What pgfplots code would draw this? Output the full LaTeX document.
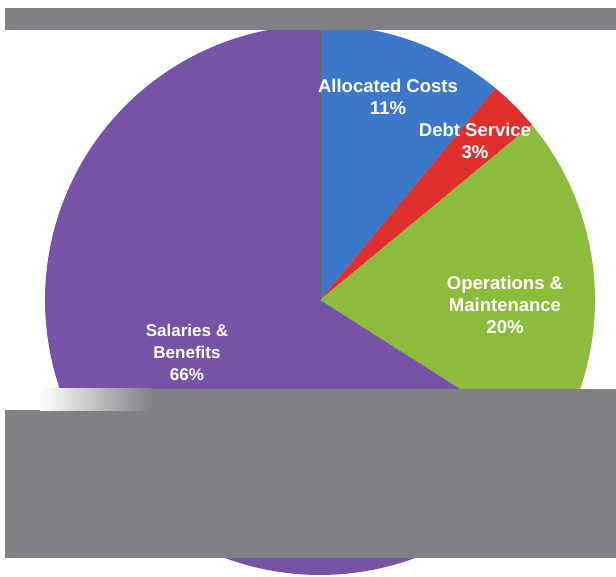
\documentclass[border=0pt]{standalone}
\usepackage{pgfplots}
\pgfplotsset{compat=1.18}
\usepackage{pgfplotstable}
\usepackage{fontspec}
\setmainfont{Liberation Sans}
\definecolor{cAlloc}{HTML}{3B78C9}
\definecolor{cDebt}{HTML}{E0302E}
\definecolor{cOps}{HTML}{8DBB3B}
\definecolor{cSal}{HTML}{7753A8}
\definecolor{cGray}{HTML}{808185}
\pgfplotstableread{
label share
Allocated 11
Debt 3
Operations 20
Salaries 66
}\shares
\pgfplotstablegetelem{0}{share}\of\shares \let\sA\pgfplotsretval
\pgfplotstablegetelem{1}{share}\of\shares \let\sB\pgfplotsretval
\pgfplotstablegetelem{2}{share}\of\shares \let\sC\pgfplotsretval
\pgfplotstablegetelem{3}{share}\of\shares \let\sD\pgfplotsretval
\pgfmathsetmacro\aA{90}
\pgfmathsetmacro\aB{\aA-3.6*\sA}
\pgfmathsetmacro\aC{\aB-3.6*\sB}
\pgfmathsetmacro\aD{\aC-3.6*\sC}
\pgfmathsetmacro\aE{\aD-3.6*\sD}
\def\cx{320}
\def\cy{277}
\def\R{275}
\begin{document}
\begin{tikzpicture}
\begin{axis}[
  width=616pt, height=577pt, scale only axis,
  xmin=0, xmax=616, ymin=0, ymax=577,
  hide axis, clip=true,
]
\addplot[fill=white, draw=none] coordinates {(0,0) (616,0) (616,577) (0,577)} -- cycle;
\addplot[fill=cAlloc, draw=none, domain=\aB:\aA, samples=60] ({\cx+\R*cos(x)}, {\cy+\R*sin(x)}) -- (axis cs:\cx,\cy) -- cycle;
\addplot[fill=cDebt, draw=none, domain=\aC:\aB, samples=20] ({\cx+\R*cos(x)}, {\cy+\R*sin(x)}) -- (axis cs:\cx,\cy) -- cycle;
\addplot[fill=cOps, draw=none, domain=\aD:\aC, samples=80] ({\cx+\R*cos(x)}, {\cy+\R*sin(x)}) -- (axis cs:\cx,\cy) -- cycle;
\addplot[fill=cSal, draw=none, domain=\aE:\aD, samples=200] ({\cx+\R*cos(x)}, {\cy+\R*sin(x)}) -- (axis cs:\cx,\cy) -- cycle;
\addplot[draw=black!60, line width=1pt] coordinates {(\cx,\cy) (\cx,552)};
% occluding grey boxes
\addplot[fill=cGray, draw=none] coordinates {(5,569) (616,569) (616,547) (5,547)} -- cycle;
\addplot[fill=cGray, draw=none] coordinates {(5,167) (616,167) (616,19) (5,19)} -- cycle;
\addplot[fill=cGray, draw=none] coordinates {(150,188) (616,188) (616,166) (150,166)} -- cycle;
\addplot[left color=white, right color=cGray, draw=none] coordinates {(40,188) (151,188) (151,166) (40,166)} -- cycle;
% labels
\begin{scope}[every node/.style={text=white, font=\bfseries\fontsize{18.5}{22}\selectfont, align=center, inner sep=0pt}]
\node at (axis cs:388,480) {Allocated Costs\\11\%};
\node at (axis cs:475,436) {Debt Service\\3\%};
\node at (axis cs:505,272) {Operations \&\\Maintenance\\20\%};
\node[font=\bfseries\fontsize{17}{22}\selectfont] at (axis cs:187,225) {Salaries \&\\Benefits\\66\%};
\end{scope}
\end{axis}
\end{tikzpicture}
\end{document}
